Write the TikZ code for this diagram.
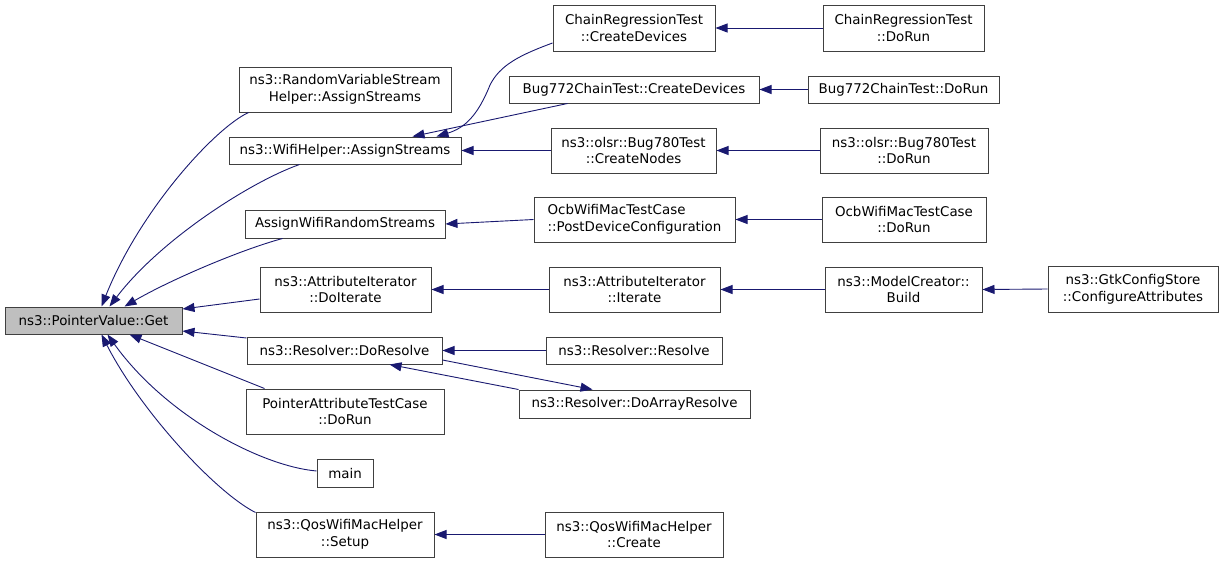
\documentclass[tikz,border=0pt]{standalone}
\usepackage{fontspec}
\setmainfont{DejaVu Sans}
\usetikzlibrary{arrows.meta}
\definecolor{edgeblue}{HTML}{191970}
\definecolor{getfill}{HTML}{BFBFBF}
\begin{document}
\begin{tikzpicture}[x=1pt,y=-1pt,
  box/.style={draw=black!75,line width=1pt,inner sep=0pt,align=center,
    font=\fontsize{13.4}{16.6}\selectfont,fill=white},
  arr/.style={draw=edgeblue,line width=0.9pt,-{Triangle[length=12pt,width=9pt]}}]
\useasboundingbox (0,0) rectangle (1221,563);
% nodes
\node[box,fill=getfill,minimum width=177,minimum height=27] (get) at (93.5,320.5) {ns3::PointerValue::Get};
\node[box,minimum width=212,minimum height=45] (rvs) at (345,89.5) {ns3::RandomVariableStream\\Helper::AssignStreams};
\node[box,minimum width=232,minimum height=27] (wifi) at (345,150.5) {ns3::WifiHelper::AssignStreams};
\node[box,minimum width=162,minimum height=46] (crtcd) at (634,28) {ChainRegressionTest\\::CreateDevices};
\node[box,minimum width=161,minimum height=46] (crtrun) at (903.5,28) {ChainRegressionTest\\::DoRun};
\node[box,minimum width=250,minimum height=27] (bugcd) at (634,89.5) {Bug772ChainTest::CreateDevices};
\node[box,minimum width=191,minimum height=27] (bugrun) at (903.5,89.5) {Bug772ChainTest::DoRun};
\node[box,minimum width=165,minimum height=45] (olsrcn) at (633.5,150.5) {ns3::olsr::Bug780Test\\::CreateNodes};
\node[box,minimum width=168,minimum height=45] (olsrrun) at (904,150.5) {ns3::olsr::Bug780Test\\::DoRun};
\node[box,minimum width=200,minimum height=28] (awrs) at (345,224) {AssignWifiRandomStreams};
\node[box,align=left,minimum width=201,minimum height=45] (ocbpost) at (634.5,219.5) {OcbWifiMacTestCase\\::PostDeviceConfiguration};
\node[box,minimum width=164,minimum height=45] (ocbrun) at (904,219.5) {OcbWifiMacTestCase\\::DoRun};
\node[box,minimum width=171,minimum height=45] (doit) at (345.5,289.5) {ns3::AttributeIterator\\::DoIterate};
\node[box,minimum width=171,minimum height=45] (iter) at (634.5,289.5) {ns3::AttributeIterator\\::Iterate};
\node[box,minimum width=157,minimum height=45] (build) at (903.5,289.5) {ns3::ModelCreator::\\Build};
\node[box,minimum width=170,minimum height=46] (gtk) at (1133,289) {ns3::GtkConfigStore\\::ConfigureAttributes};
\node[box,minimum width=195,minimum height=27] (dores) at (344.5,350.5) {ns3::Resolver::DoResolve};
\node[box,minimum width=176,minimum height=27] (res) at (634,350.5) {ns3::Resolver::Resolve};
\node[box,minimum width=231,minimum height=28] (doarr) at (634.5,404) {ns3::Resolver::DoArrayResolve};
\node[box,minimum width=198,minimum height=45] (pat) at (345,411.5) {PointerAttributeTestCase\\::DoRun};
\node[box,minimum width=56,minimum height=28] (main) at (345,473) {main};
\node[box,minimum width=178,minimum height=45] (qsetup) at (345,534.5) {ns3::QosWifiMacHelper\\::Setup};
\node[box,minimum width=178,minimum height=45] (qcreate) at (634,534.5) {ns3::QosWifiMacHelper\\::Create};
% edges into Get
\draw[arr] ([xshift=10pt]rvs.south west) .. controls (215,128) and (140,210) .. ([xshift=97pt]get.north west);
\draw[arr] ([xshift=71pt]wifi.south west) .. controls (250,182) and (160,240) .. ([xshift=105pt]get.north west);
\draw[arr] ([xshift=38pt]awrs.south west) .. controls (240,250) and (170,280) .. ([xshift=120pt]get.north west);
\draw[arr] ([yshift=-9.5pt]doit.west) -- ([yshift=11.5pt]get.east);
\draw[arr] ([yshift=12.5pt]dores.west) -- ([yshift=-10.5pt]get.east);
\draw[arr] ([xshift=19pt]pat.north west) -- ([xshift=125pt]get.south west);
\draw[arr] ([yshift=2pt]main.west) .. controls (260,466) and (165,415) .. ([xshift=103pt]get.south west);
\draw[arr] ([yshift=-1pt]qsetup.north west) .. controls (215,492) and (140,410) .. ([xshift=97pt]get.south west);
% edges into WifiHelper
\draw[arr] ([yshift=-15pt]crtcd.west) .. controls (520,55) and (500,65) .. (490,85) .. controls (478,115) and (465,128) .. ([xshift=208pt]wifi.north west);
\draw[arr] ([xshift=59pt]bugcd.south west) -- ([xshift=184pt]wifi.north west);
\draw[arr] (olsrcn.west) -- (wifi.east);
% second level
\draw[arr] (crtrun.west) -- (crtcd.east);
\draw[arr] (bugrun.west) -- (bugcd.east);
\draw[arr] (olsrrun.west) -- (olsrcn.east);
\draw[arr] (ocbpost.west) -- (awrs.east);
\draw[arr] (ocbrun.west) -- (ocbpost.east);
\draw[arr] (iter.west) -- (doit.east);
\draw[arr] (build.west) -- (iter.east);
\draw[arr] (gtk.west) -- (build.east);
\draw[arr] (res.west) -- (dores.east);
\draw[arr] ([yshift=-9.5pt]dores.east) -- ([xshift=74pt]doarr.north west);
\draw[arr] (doarr.north west) -- ([xshift=143pt]dores.south west);
\draw[arr] (qcreate.west) -- (qsetup.east);
\end{tikzpicture}
\end{document}
